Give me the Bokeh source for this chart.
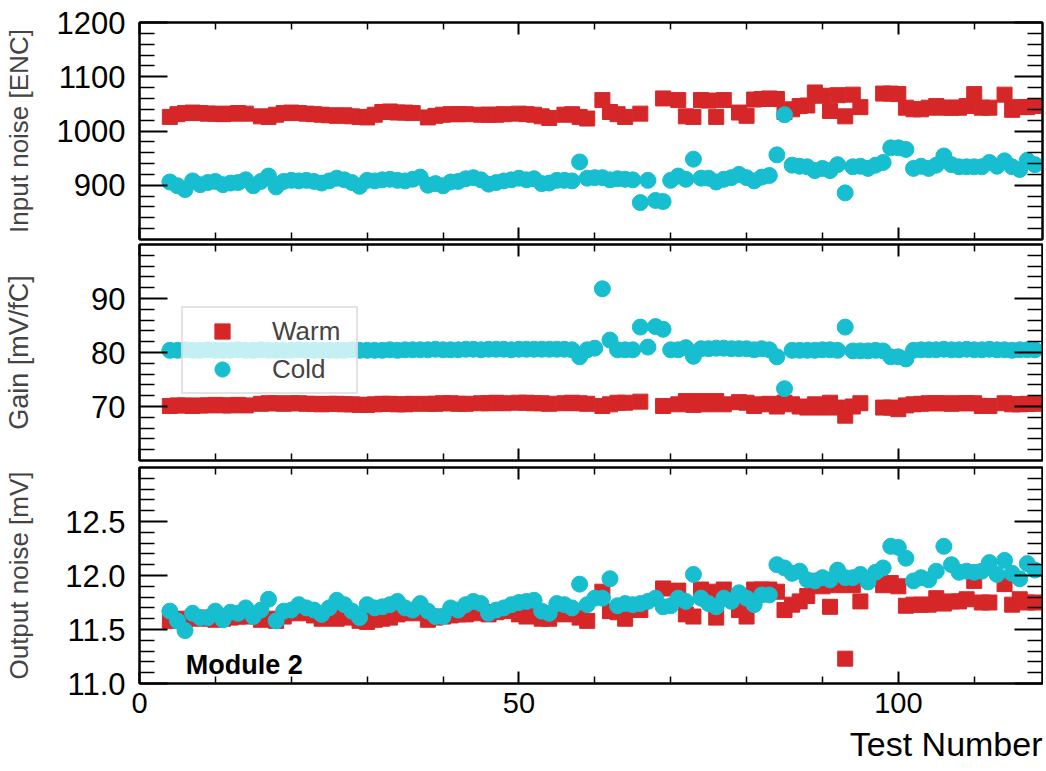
from bokeh.plotting import figure
from bokeh.layouts import column
from bokeh.models import (Range1d, FixedTicker, LinearAxis, NumeralTickFormatter,
                          Legend, LegendItem, Label, Title)
from bokeh.embed import file_html
from bokeh.resources import INLINE

# ---------------- data ----------------
cold_test = [4, 5, 6, 7, 8, 9, 10, 11, 12, 13, 14, 15, 16, 17, 18, 19, 20, 21, 22, 23,
             24, 25, 26, 27, 28, 29, 30, 31, 32, 33, 34, 35, 36, 37, 38, 39, 40, 41, 42, 43,
             44, 45, 46, 47, 48, 49, 50, 51, 52, 53, 54, 55, 56, 57, 58, 59, 60, 61, 62, 63,
             64, 65, 66, 67, 68, 69, 70, 71, 72, 73, 74, 75, 76, 77, 78, 79, 80, 81, 82, 83,
             84, 85, 86, 87, 88, 89, 90, 91, 92, 93, 94, 95, 96, 97, 98, 99, 100, 101, 102, 103,
             104, 105, 106, 107, 108, 109, 110, 111, 112, 113, 114, 115, 116, 117, 118]

warm_test = [4, 5, 6, 7, 8, 9, 10, 11, 12, 13, 14,
             16, 17, 18, 19, 20, 21, 22, 23, 24, 25, 26, 27, 28, 29, 30, 31, 32, 33, 34, 35, 36,
             38, 39, 40, 41, 42, 43,
             45, 46, 47, 48,
             50, 51, 52, 53, 54,
             56, 57, 58, 59,
             61, 62, 63, 64,
             66,
             69,
             71, 72, 73, 74, 75, 76, 77,
             79, 80, 81, 82, 83, 84, 85, 86, 87, 88, 89, 90, 91, 92, 93, 94, 95,
             98, 99, 100, 101, 102, 103, 104, 105, 106, 107, 108, 109, 110, 111, 112,
             114, 115, 116, 117, 118]

warm_input_noise = [1026, 1031, 1033, 1034, 1033, 1032, 1032, 1031, 1032, 1033, 1032,
                    1027, 1026, 1030, 1033, 1034, 1033, 1032, 1031, 1030, 1029, 1028, 1029, 1027, 1026, 1025, 1030, 1035, 1036, 1034, 1034, 1033,
                    1025, 1028, 1030, 1031, 1031, 1031,
                    1030, 1030, 1030, 1031,
                    1032, 1031, 1030, 1027, 1024,
                    1030, 1031, 1026, 1023,
                    1057, 1035, 1031, 1026,
                    1032,
                    1060,
                    1057, 1027, 1026, 1057, 1056, 1026, 1057,
                    1034, 1028, 1058, 1059, 1060, 1059, 1035, 1040, 1046, 1047, 1071, 1065, 1037, 1066, 1027, 1067, 1044,
                    1069, 1069, 1068, 1043, 1040, 1040, 1043, 1046, 1043, 1043, 1043, 1046, 1068, 1043, 1043,
                    1067, 1039, 1044, 1044, 1046]

cold_input_noise = [906, 899, 892, 908, 901, 905, 907, 901, 904, 905, 910, 899, 907, 917, 897, 907, 909, 908, 909, 907,
                    904, 908, 913, 910, 905, 898, 909, 908, 910, 911, 909, 908, 911, 915, 900, 903, 899, 906, 907, 912,
                    914, 910, 902, 905, 908, 910, 913, 910, 912, 903, 904, 909, 909, 908, 943, 913, 914, 914, 910, 912,
                    911, 910, 868, 909, 872, 870, 909, 917, 911, 948, 913, 913, 906, 911, 914, 920, 914, 908, 915, 918,
                    956, 1030, 937, 935, 934, 927, 931, 927, 938, 886, 934, 935, 931, 937, 942, 969, 969, 966, 931, 935,
                    931, 937, 954, 938, 934, 934, 934, 934, 942, 935, 945, 934, 929, 946, 938]

warm_gain = [70.1, 70.2, 70.2, 70.1, 70.2, 70.2, 70.3, 70.2, 70.2, 70.3, 70.2,
             70.5, 70.6, 70.6, 70.5, 70.6, 70.6, 70.5, 70.5, 70.4, 70.5, 70.5, 70.4, 70.4, 70.3, 70.3, 70.4, 70.5, 70.5, 70.4, 70.4, 70.5,
             70.5, 70.5, 70.6, 70.6, 70.5, 70.5,
             70.6, 70.6, 70.7, 70.6,
             70.7, 70.7, 70.6, 70.6, 70.5,
             70.6, 70.7, 70.6, 70.5,
             70.1, 70.4, 70.7, 70.7,
             70.9,
             70.1,
             70.4, 71.0, 70.3, 71.0, 70.4, 71.0, 70.4,
             70.8, 70.7, 70.1, 70.4, 70.5, 70.0, 70.7, 70.4, 70.0, 69.8, 70.4, 69.8, 70.7, 69.8, 68.3, 70.0, 70.6,
             69.8, 69.8, 69.5, 70.2, 70.4, 70.5, 70.6, 70.6, 70.6, 70.5, 70.6, 70.6, 70.6, 70.1, 70.1,
             70.6, 70.4, 70.4, 70.5, 70.5]

cold_gain = [80.4, 80.4, 80.5, 80.4, 80.4, 80.5, 80.4, 80.4, 80.4, 80.5, 80.4, 80.4, 80.5, 80.4, 80.4, 80.4, 80.4, 80.5, 80.4, 80.4,
             80.4, 80.4, 80.4, 80.4, 80.5, 80.4, 80.4, 80.4, 80.4, 80.5, 80.4, 80.5, 80.5, 80.5, 80.5, 80.6, 80.5, 80.5, 80.5, 80.6,
             80.6, 80.5, 80.6, 80.6, 80.6, 80.5, 80.6, 80.6, 80.6, 80.6, 80.6, 80.6, 80.6, 80.5, 79.2, 80.5, 80.8, 91.8, 82.3, 80.5,
             80.5, 80.5, 84.7, 81.0, 84.8, 84.3, 80.5, 80.5, 80.9, 79.3, 80.7, 80.7, 80.8, 80.8, 80.7, 80.7, 80.7, 80.5, 80.7, 80.5,
             79.2, 73.3, 80.4, 80.4, 80.4, 80.4, 80.5, 80.5, 80.4, 84.7, 80.3, 80.3, 80.3, 80.4, 80.3, 79.2, 79.2, 78.8, 80.4, 80.5,
             80.5, 80.5, 80.6, 80.5, 80.5, 80.6, 80.5, 80.5, 80.6, 80.5, 80.5, 80.4, 80.5, 80.5, 80.5]

warm_output_noise = [11.58, 11.59, 11.60, 11.60, 11.61, 11.60, 11.59, 11.60, 11.61, 11.62, 11.62,
                     11.59, 11.60, 11.58, 11.62, 11.65, 11.66, 11.65, 11.63, 11.60, 11.61, 11.60, 11.62, 11.61, 11.58, 11.57, 11.59, 11.60, 11.61, 11.64, 11.66, 11.65,
                     11.59, 11.61, 11.62, 11.63, 11.64, 11.64,
                     11.65, 11.64, 11.66, 11.67,
                     11.64, 11.62, 11.63, 11.60, 11.60,
                     11.64, 11.66, 11.61, 11.58,
                     11.85, 11.67, 11.66, 11.60,
                     11.68,
                     11.88,
                     11.86, 11.64, 11.62, 11.87, 11.85, 11.61, 11.87,
                     11.68, 11.62, 11.87, 11.87, 11.87, 11.85, 11.68, 11.73, 11.76, 11.81, 11.95, 11.90, 11.71, 11.91, 11.23, 11.91, 11.76,
                     11.91, 11.93, 11.90, 11.72, 11.73, 11.73, 11.73, 11.79, 11.74, 11.76, 11.76, 11.78, 11.95, 11.75, 11.75,
                     11.92, 11.73, 11.78, 11.75, 11.75]

cold_output_noise = [11.67, 11.58, 11.49, 11.65, 11.61, 11.61, 11.67, 11.59, 11.66, 11.65, 11.70, 11.62, 11.68, 11.78, 11.58, 11.67, 11.68, 11.73, 11.70, 11.68,
                     11.64, 11.70, 11.77, 11.73, 11.67, 11.61, 11.73, 11.70, 11.71, 11.73, 11.76, 11.70, 11.68, 11.74, 11.67, 11.62, 11.62, 11.70, 11.68, 11.73,
                     11.76, 11.74, 11.65, 11.68, 11.70, 11.73, 11.75, 11.76, 11.77, 11.67, 11.65, 11.74, 11.73, 11.70, 11.92, 11.73, 11.79, 11.79, 11.97, 11.72,
                     11.74, 11.73, 11.74, 11.76, 11.79, 11.71, 11.72, 11.79, 11.76, 12.01, 11.79, 11.74, 11.71, 11.79, 11.76, 11.84, 11.79, 11.73, 11.82, 11.82,
                     12.10, 12.07, 12.02, 12.04, 11.96, 11.95, 11.98, 11.96, 12.05, 11.98, 11.98, 12.01, 11.94, 12.03, 12.07, 12.27, 12.26, 12.16, 11.95, 11.98,
                     11.96, 12.04, 12.27, 12.10, 12.03, 12.04, 12.03, 12.04, 12.12, 12.01, 12.14, 12.02, 11.97, 12.11, 12.05]

x_major_ticks = [0, 50, 100]
x_minor_ticks = [10, 20, 30, 40, 60, 70, 80, 90, 110]
noise_major_ticks = [900, 1000, 1100, 1200]
noise_minor_ticks = [820, 840, 860, 880, 920, 940, 960, 980, 1020, 1040, 1060, 1080,
                     1120, 1140, 1160, 1180]
gain_major_ticks = [70, 80, 90]
gain_minor_ticks = [62, 64, 66, 68, 72, 74, 76, 78, 82, 84, 86, 88, 92, 94, 96, 98]
out_major_ticks = [11.0, 11.5, 12.0, 12.5]
out_minor_ticks = [11.1, 11.2, 11.3, 11.4, 11.6, 11.7, 11.8, 11.9, 12.1, 12.2, 12.3, 12.4,
                   12.6, 12.7, 12.8, 12.9]

RED = "#d62728"
CYAN = "#17becf"
FONT = "Liberation Sans"
FRAME_W = 903


def style_axis(ax, major_in, minor_in, show_labels, fsize="31px", standoff=14):
    ax.axis_line_color = "black"
    ax.axis_line_width = 2
    ax.major_tick_line_color = "black"
    ax.major_tick_line_width = 2
    ax.minor_tick_line_color = "black"
    ax.minor_tick_line_width = 1.5
    ax.major_tick_in = major_in
    ax.major_tick_out = 0
    ax.minor_tick_in = minor_in
    ax.minor_tick_out = 0
    if show_labels:
        ax.major_label_text_font = FONT
        ax.major_label_text_font_size = fsize
        ax.major_label_text_color = "black"
        ax.major_label_standoff = standoff
    else:
        ax.major_label_text_color = None
        ax.major_label_text_font_size = "1px"
        ax.major_label_standoff = 0


def make_panel(y0, y1, yticks, yminor, yfmt, ylabel, ylabel_size, label_standoff,
               frame_h, top_b, bottom_b, show_x):
    p = figure(frame_width=FRAME_W, frame_height=frame_h,
               x_range=Range1d(0, 119), y_range=Range1d(y0, y1),
               output_backend="svg", toolbar_location=None,
               min_border_left=133, min_border_right=2,
               min_border_top=top_b, min_border_bottom=bottom_b)
    p.grid.visible = False
    p.outline_line_color = "black"
    p.outline_line_width = 2
    p.background_fill_color = "white"
    p.border_fill_color = "white"

    xa = p.xaxis[0]
    xa.ticker = FixedTicker(ticks=x_major_ticks, minor_ticks=x_minor_ticks)
    style_axis(xa, 12, 7, show_x, fsize="29px", standoff=9)

    ya = p.yaxis[0]
    ya.ticker = FixedTicker(ticks=yticks, minor_ticks=yminor)
    ya.formatter = NumeralTickFormatter(format=yfmt)
    style_axis(ya, 28, 15, True)
    ya.axis_label = ylabel
    ya.axis_label_text_font = FONT
    ya.axis_label_text_font_size = ylabel_size
    ya.axis_label_text_font_style = "normal"
    ya.axis_label_standoff = label_standoff

    top_ax = LinearAxis(ticker=FixedTicker(ticks=x_major_ticks, minor_ticks=x_minor_ticks))
    style_axis(top_ax, 12, 7, False)
    p.add_layout(top_ax, "above")

    right_ax = LinearAxis(ticker=FixedTicker(ticks=yticks, minor_ticks=yminor))
    style_axis(right_ax, 28, 15, False)
    p.add_layout(right_ax, "right")
    return p


# ---------------- top: input noise ----------------
p1 = make_panel(800, 1200, noise_major_ticks, noise_minor_ticks, "0",
                "Input noise [ENC]", "26px", 20, 217, 22, 3, False)
p1.scatter(warm_test, warm_input_noise, marker="square", size=15, color=RED)
p1.scatter(cold_test, cold_input_noise, marker="circle", size=16, color=CYAN)

# ---------------- middle: gain ----------------
p2 = make_panel(60, 100, gain_major_ticks, gain_minor_ticks, "0",
                "Gain [mV/fC]", "27px", 54, 216, 2, 3, False)
rw = p2.scatter(warm_test, warm_gain, marker="square", size=15, color=RED)
rc = p2.scatter(cold_test, cold_gain, marker="circle", size=16, color=CYAN)
legend = Legend(items=[LegendItem(label="Warm", renderers=[rw]),
                       LegendItem(label="Cold", renderers=[rc])],
                location=(42, 66), orientation="vertical",
                glyph_width=70, glyph_height=38, label_height=38, label_width=80,
                label_standoff=15, padding=4, spacing=0, margin=0,
                label_text_font=FONT, label_text_font_size="26px",
                border_line_color="#c8c8c8", border_line_width=2,
                background_fill_color="white", background_fill_alpha=0.75)
p2.add_layout(legend)

# ---------------- bottom: output noise ----------------
p3 = make_panel(11.0, 13.0, out_major_ticks, out_minor_ticks, "0.0",
                "Output noise [mV]", "26px", 28, 216, 4, 80, True)
p3.scatter(warm_test, warm_output_noise, marker="square", size=15, color=RED)
p3.scatter(cold_test, cold_output_noise, marker="circle", size=16, color=CYAN)
p3.add_layout(Label(x=6.1, y=11.17, text="Module 2", text_font=FONT,
                    text_font_size="27px", text_font_style="bold",
                    text_color="black", text_baseline="alphabetic"))
p3.add_layout(Title(text="Test Number", align="right", text_font=FONT,
                    text_font_size="34px", text_font_style="normal",
                    text_color="black", standoff=15), "below")

layout = column(p1, p2, p3, spacing=0)
open("out.html", "w").write(file_html(layout, INLINE))
